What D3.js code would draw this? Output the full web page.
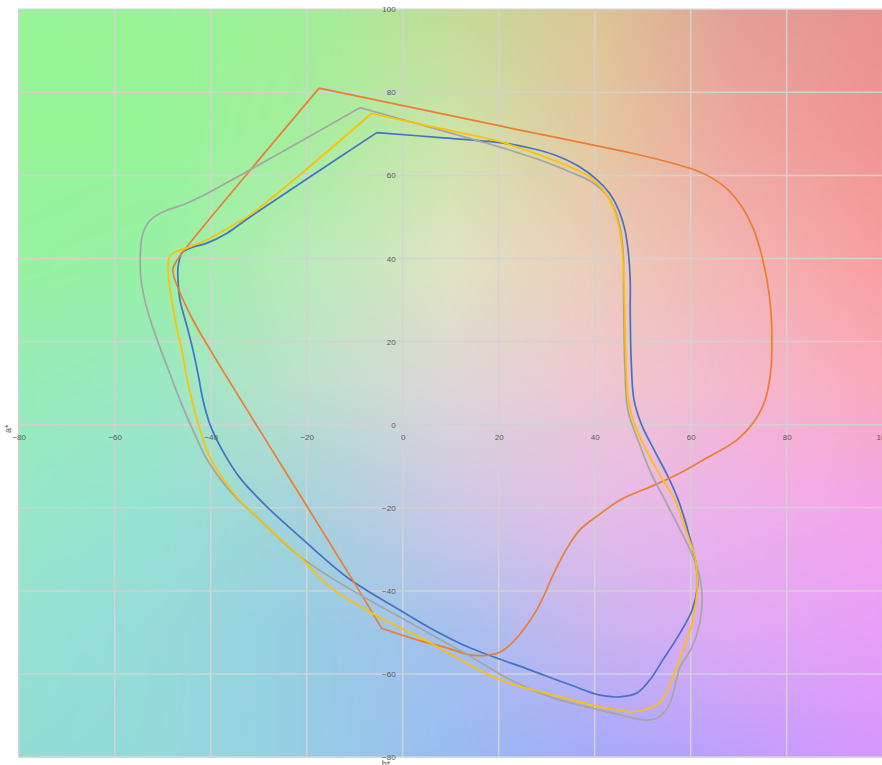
<!DOCTYPE html>
<html>
<head>
<meta charset="utf-8">
<script src="https://cdn.jsdelivr.net/npm/d3@7"></script>
<style>
  html, body { margin: 0; padding: 0; background: #ffffff; overflow: hidden; }
  svg { display: block; }
  .tick text { font-family: "Liberation Sans", Arial, sans-serif; font-size: 8px; fill: #595959; }
  .title { font-family: "Liberation Sans", Arial, sans-serif; font-size: 9px; fill: #595959; }
</style>
</head>
<body>
<svg id="chart" width="882" height="765"></svg>
<script>
// Tick values shared by both axes
const ticks = [-80, -60, -40, -20, 0, 20, 40, 60, 80, 100];

// Gamut outlines in the a*/b* plane, [a*, b*] pairs
const blue = [
  [-5.4,70.3],[7.8,69.1],[20.3,67.9],[26.5,66.6],[31.7,64.9],[36.5,62.3],[40.5,58.9],[43.2,55.5],
  [45.1,51.4],[46.3,46.9],[47.0,41.6],[47.4,34.8],[47.4,27.6],[47.6,15.6],[48.2,5.9],[49.8,-0.1],
  [52.4,-6.1],[55.1,-12.1],[57.4,-18.1],[59.2,-24.6],[60.5,-30.2],[61.2,-34.2],[61.4,-39.1],
  [60.3,-44.6],[57.8,-50.1],[54.2,-56.6],[51.5,-61.4],[48.8,-64.6],[45.3,-65.5],[41.1,-65.1],
  [34.9,-62.6],[26.5,-59.0],[14.0,-53.7],[5.7,-48.9],[-0.6,-44.6],[-11.4,-36.9],[-21.4,-27.0],
  [-28.7,-19.3],[-33.9,-12.8],[-37.6,-6.1],[-40.1,-0.1],[-41.6,5.9],[-42.6,12.0],[-43.7,18.0],
  [-44.9,23.5],[-46.4,30.0],[-46.8,34.8],[-46.8,38.0],[-46.0,41.3],[-44.3,42.5],[-40.8,43.7],
  [-36.6,46.1],[-31.8,50.0],[-5.4,70.3]
];

const orange = [
  [-17.4,81.0],[20.3,71.9],[49.4,64.9],[55.7,63.1],[60.9,61.3],[64.4,59.4],[67.8,56.5],[70.7,52.4],
  [73.0,47.3],[74.6,41.6],[75.9,34.8],[76.7,27.6],[76.9,19.2],[76.7,13.2],[75.5,5.9],[73.0,0.4],
  [69.6,-3.7],[62.6,-8.5],[57.8,-11.6],[51.5,-15.0],[45.3,-18.1],[41.1,-21.5],[36.9,-25.3],
  [33.8,-30.6],[31.3,-36.2],[29.6,-40.7],[27.8,-44.8],[25.1,-49.4],[22.8,-52.5],[20.3,-54.7],
  [17.6,-55.5],[14.0,-55.4],[9.2,-53.7],[3.0,-51.8],[-4.4,-49.0],[-4.4,-49.0],[-10.4,-37.4],
  [-25.3,-9.7],[-40.1,18.0],[-43.7,25.2],[-46.8,32.9],[-47.9,37.2],[-47.0,39.6],[-44.7,43.2],
  [-17.4,81.0]
];

const gray = [
  [-8.9,76.3],[7.8,70.9],[20.3,66.8],[28.6,63.7],[34.9,60.8],[39.4,58.4],[42.8,54.8],[44.9,49.3],
  [45.9,42.0],[46.0,32.4],[46.1,22.8],[46.3,13.2],[46.9,3.5],[49.4,-4.9],[51.9,-12.1],[54.6,-18.1],
  [57.8,-25.3],[60.5,-31.8],[61.9,-36.7],[62.4,-42.2],[61.9,-47.7],[60.3,-53.5],[57.8,-58.3],
  [56.7,-63.1],[55.3,-67.9],[53.0,-70.6],[50.9,-71.1],[48.0,-70.6],[43.8,-69.4],[41.1,-68.7],
  [30.7,-65.5],[22.4,-61.4],[14.0,-55.7],[-0.6,-46.3],[-14.1,-37.4],[-21.8,-31.4],[-29.3,-23.4],
  [-35.8,-16.2],[-40.7,-8.5],[-43.7,-1.3],[-46.4,5.9],[-48.4,12.0],[-50.4,18.0],[-53.2,27.6],
  [-54.5,34.8],[-54.7,39.2],[-54.4,44.5],[-53.5,47.8],[-51.8,50.0],[-48.9,51.7],[-45.4,53.1],
  [-42.2,54.8],[-8.9,76.3]
];

const yellow = [
  [-6.5,74.9],[7.8,71.3],[20.3,68.1],[28.6,64.9],[34.9,62.0],[39.0,59.6],[42.1,56.0],[44.2,51.2],
  [45.5,44.5],[46.1,34.8],[46.3,25.2],[46.5,15.6],[46.9,7.1],[48.0,1.1],[50.5,-5.6],[53.6,-12.1],
  [56.7,-18.1],[59.2,-26.1],[60.9,-31.8],[61.3,-35.7],[61.3,-40.5],[60.3,-47.7],[58.4,-54.2],
  [56.1,-61.4],[54.0,-66.3],[51.5,-68.2],[48.0,-69.1],[45.3,-68.7],[41.1,-67.9],[32.8,-65.5],
  [20.3,-61.4],[5.7,-52.5],[-8.3,-44.1],[-15.1,-39.1],[-21.4,-31.8],[-28.7,-24.1],[-34.9,-16.9],
  [-40.1,-8.0],[-42.2,-1.3],[-43.9,5.9],[-45.1,12.0],[-46.0,18.0],[-47.1,23.5],[-48.1,30.0],
  [-48.8,35.5],[-48.6,40.4],[-47.4,41.6],[-45.0,42.5],[-40.8,44.5],[-36.0,47.6],[-31.8,50.5],
  [-6.5,74.9]
];

// Background tint: colour samples on a coarse a*/b* lattice, blended bilinearly
const bgA = [-80, -50, -20, 10, 40, 70, 100];
const bgB = [100, 70, 40, 10, -20, -50, -80];
const bgRGB = [
  [[150,245,150],[152,245,150],[160,240,150],[195,220,152],[220,198,150],[228,158,150],[232,145,145]],
  [[150,245,150],[150,245,152],[165,238,158],[205,228,170],[228,200,160],[238,165,158],[240,148,148]],
  [[150,243,160],[152,240,165],[185,235,185],[224,228,195],[236,205,185],[243,180,178],[248,158,160]],
  [[150,236,185],[155,232,195],[190,225,205],[222,215,215],[238,200,210],[245,185,205],[250,170,188]],
  [[150,232,200],[150,225,210],[165,210,220],[205,200,230],[228,190,232],[238,175,235],[245,165,235]],
  [[148,225,210],[150,218,218],[150,205,228],[165,192,238],[200,180,240],[225,168,245],[232,158,248]],
  [[145,220,212],[148,218,220],[150,205,230],[152,188,242],[165,170,250],[190,158,252],[215,150,252]]
];

const svg = d3.select("#chart");
const x = d3.scaleLinear().domain([-80, 100]).range([18.7, 882.7]);
const y = d3.scaleLinear().domain([-80, 100]).range([757.1, 9.2]);

// ---- background raster ----
(function drawBackground() {
  const x0 = x(-80), y0 = y(100);
  const w = Math.round(x(100) - x0), h = Math.round(y(-80) - y0);
  const canvas = document.createElement("canvas");
  canvas.width = w; canvas.height = h;
  const ctx = canvas.getContext("2d");
  const img = ctx.createImageData(w, h);
  const locate = (arr, v) => {
    const asc = arr[0] < arr[arr.length - 1];
    for (let i = 0; i < arr.length - 1; i++) {
      const lo = arr[i], hi = arr[i + 1];
      if (asc ? v <= hi : v >= hi) return [i, (v - lo) / (hi - lo)];
    }
    return [arr.length - 2, 1];
  };
  for (let py = 0; py < h; py++) {
    const b = y.invert(y0 + py + 0.5);
    const [j, tv] = locate(bgB, b);
    for (let px = 0; px < w; px++) {
      const a = x.invert(x0 + px + 0.5);
      const [i, tu] = locate(bgA, a);
      const c00 = bgRGB[j][i], c01 = bgRGB[j][i + 1], c10 = bgRGB[j + 1][i], c11 = bgRGB[j + 1][i + 1];
      const k = (py * w + px) * 4;
      for (let c = 0; c < 3; c++) {
        const top = c00[c] + (c01[c] - c00[c]) * tu;
        const bot = c10[c] + (c11[c] - c10[c]) * tu;
        img.data[k + c] = Math.round(top + (bot - top) * tv);
      }
      img.data[k + 3] = 255;
    }
  }
  ctx.putImageData(img, 0, 0);
  svg.append("image")
    .attr("x", x0).attr("y", y0)
    .attr("width", w).attr("height", h)
    .attr("preserveAspectRatio", "none")
    .attr("href", canvas.toDataURL());
})();

// ---- gridlines (including the 0 axes) ----
const grid = svg.append("g").attr("stroke", "#d2d2d2").attr("stroke-width", 1.5);
grid.selectAll("line.v").data(ticks).join("line")
  .attr("x1", d => x(d)).attr("x2", d => x(d))
  .attr("y1", y(-80)).attr("y2", y(100));
grid.selectAll("line.h").data(ticks).join("line")
  .attr("y1", d => y(d)).attr("y2", d => y(d))
  .attr("x1", x(-80)).attr("x2", x(100));

// ---- curves ----
const line = d3.line()
  .x(d => x(d[0])).y(d => y(d[1]))
  .curve(d3.curveCatmullRom.alpha(0.5));

const series = [
  { pts: blue,   color: "#4472c4" },
  { pts: orange, color: "#ed7d31" },
  { pts: gray,   color: "#a5a5a5" },
  { pts: yellow, color: "#ffc000" }
];
svg.append("g").selectAll("path").data(series).join("path")
  .attr("d", d => line(d.pts))
  .attr("fill", "none")
  .attr("stroke", d => d.color)
  .attr("stroke-width", 1.7)
  .attr("stroke-linejoin", "round");

// ---- axes crossing at the origin ----
const xAxis = d3.axisBottom(x).tickValues(ticks).tickSize(0).tickPadding(9.5);
const yAxis = d3.axisLeft(y).tickValues(ticks).tickSize(0).tickPadding(7);
svg.append("g").attr("transform", `translate(0,${y(0)})`).call(xAxis)
  .call(g => g.select(".domain").remove());
svg.append("g").attr("transform", `translate(${x(0)},0)`).call(yAxis)
  .call(g => g.select(".domain").remove());

// ---- axis titles ----
svg.append("text").attr("class", "title")
  .attr("transform", `translate(10.5,${y(0) + 4}) rotate(-90)`)
  .attr("text-anchor", "middle")
  .text("a*");
svg.append("text").attr("class", "title")
  .attr("x", 386).attr("y", 767)
  .attr("text-anchor", "middle")
  .text("b*");
</script>
</body>
</html>
